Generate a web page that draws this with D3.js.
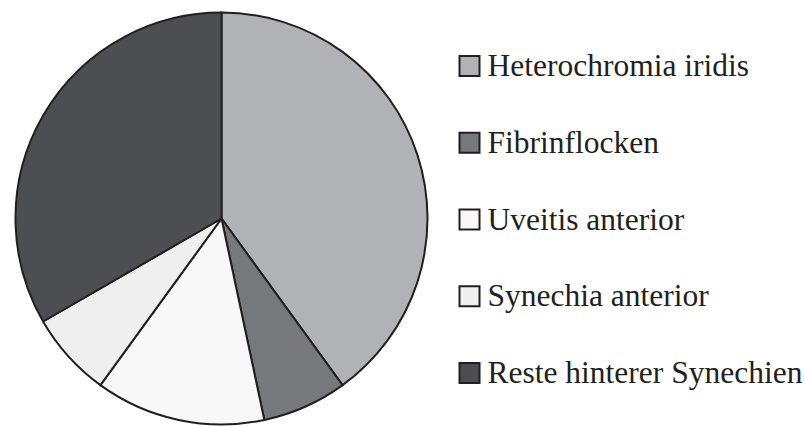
<!DOCTYPE html>
<html>
<head>
<meta charset="utf-8">
<script src="https://cdn.jsdelivr.net/npm/d3@7"></script>
<style>
  html, body { margin: 0; padding: 0; background: #ffffff; }
  svg { display: block; }
</style>
</head>
<body>
<svg id="chart" width="804" height="426"></svg>
<script>
const categories = ["Heterochromia iridis", "Fibrinflocken", "Uveitis anterior", "Synechia anterior", "Reste hinterer Synechien"];
const values = [6, 1, 2, 1, 5];
const colors = ["#b1b2b5", "#77787c", "#f8f8f8", "#efefef", "#4d4e51"];

const data = categories.map((c, i) => ({ name: c, value: values[i], color: colors[i] }));

const svg = d3.select("#chart");
const cx = 221.5, cy = 218.5, r = 206;
const strokeColor = "#231f20";

const pie = d3.pie().value(d => d.value).sort(null);
const arc = d3.arc().innerRadius(0).outerRadius(r);

const g = svg.append("g").attr("transform", `translate(${cx},${cy})`);
g.selectAll("path")
  .data(pie(data))
  .join("path")
  .attr("d", arc)
  .attr("fill", d => d.data.color)
  .attr("stroke", strokeColor)
  .attr("stroke-width", 2);

const legendY = d3.scalePoint().domain(categories).range([66, 373]);
const items = svg.append("g").selectAll("g").data(data).join("g")
  .attr("transform", d => `translate(0,${legendY(d.name)})`);
items.append("rect")
  .attr("x", 459.5).attr("y", -10).attr("width", 20).attr("height", 20)
  .attr("fill", d => d.color)
  .attr("stroke", strokeColor)
  .attr("stroke-width", 2);
items.append("text")
  .attr("x", 487.5).attr("y", 10)
  .style("font-family", "Liberation Serif")
  .style("font-size", "31.5px")
  .attr("fill", "#231f20")
  .text(d => d.name);
</script>
</body>
</html>
